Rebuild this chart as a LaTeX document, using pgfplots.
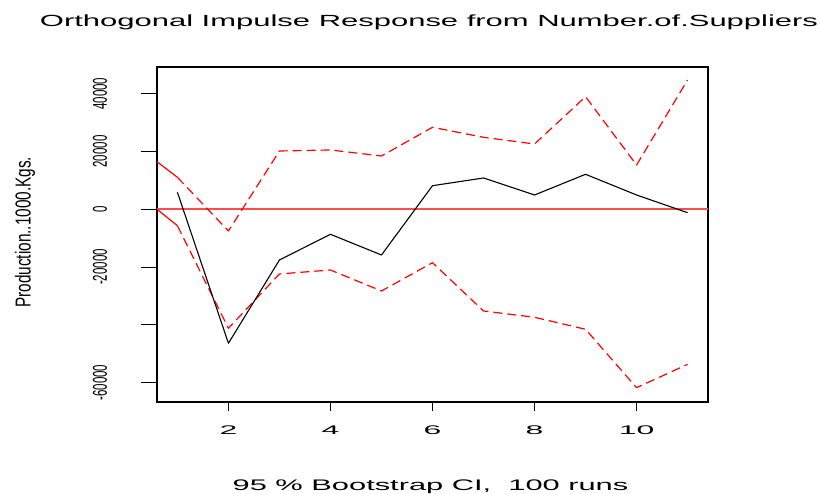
\documentclass[border=0pt]{standalone}
\usepackage{pgfplots}
\pgfplotsset{compat=1.18}
\usepackage{fontspec}
\setmainfont{Liberation Sans}
\usepackage{graphicx}

\newcommand\xtl[1]{\scalebox{2.55}[1]{\fontsize{12.5}{12.5}\selectfont #1}}
\newcommand\ytl[1]{\scalebox{0.575}[1]{\fontsize{20}{20}\selectfont #1}}
\definecolor{zline}{rgb}{1,0.3,0.3}

\begin{document}
\begin{tikzpicture}
\useasboundingbox (0,0) rectangle (820pt,494pt);
\begin{axis}[
  at={(157pt,92pt)}, anchor=south west,
  scale only axis, width=551pt, height=335pt,
  xmin=0.6, xmax=11.4, ymin=-66740, ymax=49280,
  axis line style={line width=1.5pt},
  ytick=\empty,
  xtick={2,4,6,8,10},
  xtick pos=bottom,
  xticklabels={\xtl{2},\xtl{4},\xtl{6},\xtl{8},\xtl{10}},
  tick align=outside, major tick length=9pt,
  tick style={black, line width=1pt},
  xticklabel style={anchor=base, inner sep=0pt},
  xticklabel shift=23.5pt,
]
\addplot[draw=none, forget plot] coordinates {(1,0)(2,0)};
\end{axis}
\begin{axis}[
  at={(157pt,92pt)}, anchor=south west,
  scale only axis, width=551pt, height=335pt,
  xmin=0.6, xmax=11.4, ymin=-66740, ymax=49280,
  axis line style={line width=1.5pt},
  xtick=\empty,
  ytick={-60000,-40000,-20000,0,20000,40000},
  yticklabels={\ytl{-60000},,\ytl{-20000},\ytl{0},\ytl{20000},\ytl{40000}},
  scaled y ticks=false,
  ytick pos=left,
  tick align=outside, major tick length=16pt,
  tick style={black, line width=1pt},
  yticklabel style={rotate=90, anchor=base, inner sep=0pt},
  yticklabel shift=34pt,
  clip=true,
]
\addplot[draw=zline, line width=1.6pt] coordinates {(0.6,150) (6,150) (11.4,150)};
\addplot[red, line width=1.2pt, line join=round] coordinates {(0.6,16480) (1,11080)};
\addplot[red, line width=1.2pt, line join=round, dash pattern=on 9pt off 5pt] coordinates {
(1,11080)(2,-7510)(3,20190)(4,20540)(5,18460)(6,28400)(7,24930)(8,22610)(9,38990)(10,15340)(11,44780)};
\addplot[red, line width=1.2pt, line join=round] coordinates {(0.6,0) (1,-5680)};
\addplot[red, line width=1.2pt, line join=round, dash pattern=on 9pt off 5pt] coordinates {
(1,-5680)(2,-41210)(3,-22400)(4,-21020)(5,-28290)(6,-18490)(7,-35220)(8,-37400)(9,-41560)(10,-61780)(11,-53700)};
\addplot[black, line width=1.1pt, line join=round] coordinates {
(1,5890)(2,-46400)(3,-17560)(4,-8660)(5,-15830)(6,8170)(7,10840)(8,4950)(9,12120)(10,4950)(11,-1180)};
\end{axis}
\node[anchor=base, inner sep=0pt] at (429pt,467.3pt)
  {\resizebox{778pt}{11.7pt}{\fontsize{16}{16}\selectfont Orthogonal Impulse Response from Number.of.Suppliers}};
\node[anchor=base, inner sep=0pt] at (430.5pt,3.3pt)
  {\resizebox{395.6pt}{10.7pt}{\fontsize{14}{14}\selectfont 95 \% Bootstrap CI,\ \ 100 runs}};
\node[anchor=base, inner sep=0pt, rotate=90] at (30.7pt,261.7pt)
  {\resizebox{151pt}{15.7pt}{\fontsize{20}{20}\selectfont Production..1000.Kgs.}};
\end{tikzpicture}
\end{document}
